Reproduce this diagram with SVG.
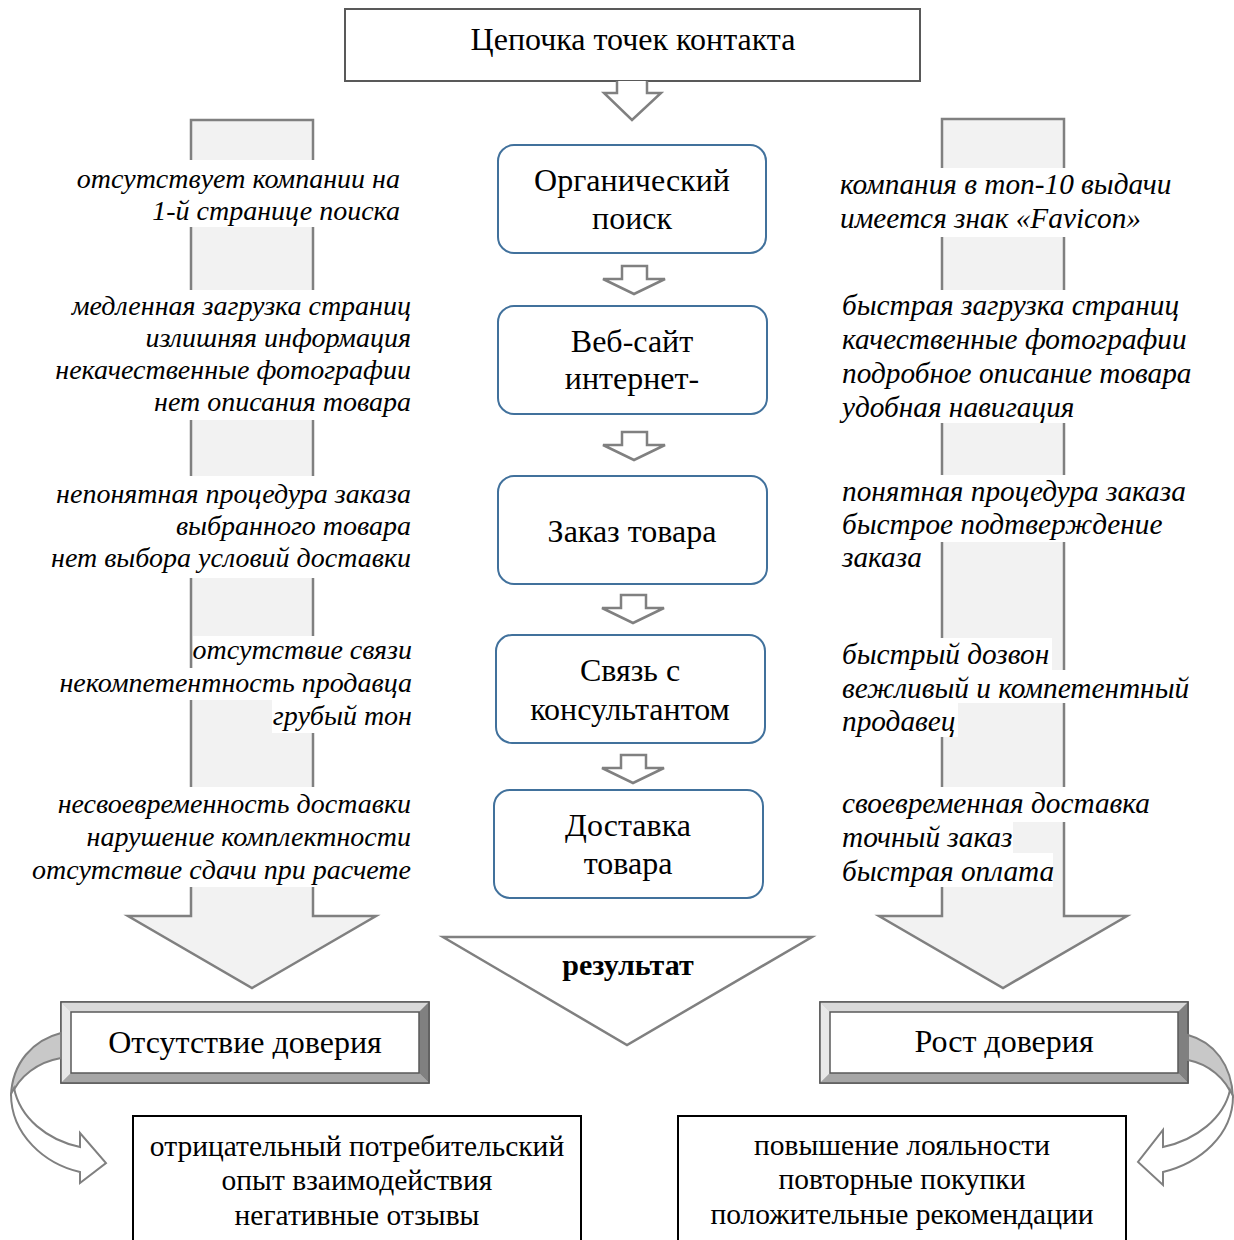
<svg xmlns="http://www.w3.org/2000/svg" width="1234" height="1240" viewBox="0 0 1234 1240">
  <style>
    .serif { font-family: "Liberation Serif", "Times New Roman", serif; fill: #000; }
    .title { font-size: 32px; }
    .node-box { fill: #fff; stroke: #41719c; stroke-width: 2; }
    .node-txt { font-size: 32px; text-anchor: middle; }
    .side { font-size: 28px; font-style: italic; }
    .side-r { font-size: 29.3px; font-style: italic; }
    .left { text-anchor: end; }
    .hl { fill: #fff; }
    .shaft { fill: #f2f2f2; stroke: #808080; stroke-width: 2.5; }
    .step { fill: #fff; stroke: #808080; stroke-width: 2.5; }
    .bevel-out { fill: #bfbfbf; stroke: #595959; stroke-width: 1.5; }
    .res-box { fill: #fff; stroke: #000; stroke-width: 2; }
    .res-txt { font-size: 29.5px; text-anchor: middle; }
    .curl-back { fill: #c8c8c8; stroke: #808080; stroke-width: 2; }
    .curl-front { fill: #fff; stroke: #808080; stroke-width: 2; }
  </style>

  <!-- Large side arrows: shafts run behind the lists of factors -->
  <g id="arrow-negative">
    <path class="shaft" d="M191,120 H313 V916 H376 L252,988 L128,916 H191 Z"/>
  </g>
  <g id="arrow-positive">
    <path class="shaft" d="M942,119 H1064 V916 H1127 L1003,988 L879,916 H942 Z"/>
  </g>

  <!-- Title -->
  <g id="title">
    <rect x="345" y="9" width="575" height="72" fill="#fff" stroke="#595959" stroke-width="2"/>
    <text class="serif title" x="633" y="50" text-anchor="middle">Цепочка точек контакта</text>
  </g>

  <!-- Step arrows between the touch points -->
  <g id="connectors">
    <path class="step" d="M617,81 V93 H604 L632,120 L661,93 H647 V81"/>
    <path class="step" d="M622,266 H647 V279 H665 L634,294 L603,279 H622 Z"/>
    <path class="step" d="M622,432 H647 V445 H665 L634,460 L603,445 H622 Z"/>
    <path class="step" d="M621,595 H646 V608 H664 L633,623 L602,608 H621 Z"/>
    <path class="step" d="M621,755 H646 V768 H664 L633,783 L602,768 H621 Z"/>
  </g>

  <!-- Touch points -->
  <g id="node-search">
    <rect class="node-box" x="498" y="145" width="268" height="108" rx="16"/>
    <text class="serif node-txt" x="632" y="191">Органический</text>
    <text class="serif node-txt" x="632" y="229">поиск</text>
  </g>
  <g id="node-site">
    <rect class="node-box" x="498" y="306" width="269" height="108" rx="16"/>
    <text class="serif node-txt" x="632" y="352">Веб-сайт</text>
    <text class="serif node-txt" x="632" y="389">интернет-</text>
  </g>
  <g id="node-order">
    <rect class="node-box" x="498" y="476" width="269" height="108" rx="16"/>
    <text class="serif node-txt" x="632" y="542">Заказ товара</text>
  </g>
  <g id="node-consult">
    <rect class="node-box" x="496" y="635" width="269" height="108" rx="16"/>
    <text class="serif node-txt" x="630" y="681">Связь с</text>
    <text class="serif node-txt" x="630" y="720">консультантом</text>
  </g>
  <g id="node-delivery">
    <rect class="node-box" x="494" y="790" width="269" height="108" rx="16"/>
    <text class="serif node-txt" x="628" y="836">Доставка</text>
    <text class="serif node-txt" x="628" y="874">товара</text>
  </g>

  <!-- Negative factors (left) -->
  <g id="neg-search">
    <rect class="hl" x="189" y="160" width="128" height="67"/>
    <text class="serif side left" x="400" y="188">отсутствует компании на</text>
    <text class="serif side left" x="400" y="220">1-й странице поиска</text>
  </g>
  <g id="neg-site">
    <rect class="hl" x="189" y="290" width="128" height="130"/>
    <text class="serif side left" x="411" y="315">медленная загрузка страниц</text>
    <text class="serif side left" x="411" y="347">излишняя информация</text>
    <text class="serif side left" x="411" y="379">некачественные фотографии</text>
    <text class="serif side left" x="411" y="411">нет описания товара</text>
  </g>
  <g id="neg-order">
    <rect class="hl" x="189" y="476" width="128" height="102"/>
    <text class="serif side left" x="411" y="503">непонятная процедура заказа</text>
    <text class="serif side left" x="411" y="535">выбранного товара</text>
    <text class="serif side left" x="411" y="567">нет выбора условий доставки</text>
  </g>
  <g id="neg-consult">
    <rect class="hl" x="193" y="636" width="124" height="32"/>
    <rect class="hl" x="189" y="668" width="128" height="32"/>
    <rect class="hl" x="272" y="700" width="45" height="33"/>
    <text class="serif side left" x="412" y="659">отсутствие связи</text>
    <text class="serif side left" x="412" y="692">некомпетентность продавца</text>
    <text class="serif side left" x="412" y="725">грубый тон</text>
  </g>
  <g id="neg-delivery">
    <rect class="hl" x="189" y="787" width="128" height="100"/>
    <text class="serif side left" x="411" y="813">несвоевременность доставки</text>
    <text class="serif side left" x="411" y="846">нарушение комплектности</text>
    <text class="serif side left" x="411" y="879">отсутствие сдачи при расчете</text>
  </g>

  <!-- Positive factors (right) -->
  <g id="pos-search">
    <rect class="hl" x="940" y="168" width="128" height="69"/>
    <text class="serif side-r" x="840" y="194">компания в топ-10 выдачи</text>
    <text class="serif side-r" x="840" y="228">имеется знак «Favicon»</text>
  </g>
  <g id="pos-site">
    <rect class="hl" x="940" y="290" width="128" height="133"/>
    <text class="serif side-r" x="842" y="315">быстрая загрузка страниц</text>
    <text class="serif side-r" x="842" y="349">качественные фотографии</text>
    <text class="serif side-r" x="842" y="383">подробное описание товара</text>
    <text class="serif side-r" x="842" y="417">удобная навигация</text>
  </g>
  <g id="pos-order">
    <rect class="hl" x="940" y="475" width="128" height="67"/>
    <text class="serif side-r" x="842" y="501">понятная процедура заказа</text>
    <text class="serif side-r" x="842" y="534">быстрое подтверждение</text>
    <text class="serif side-r" x="842" y="567">заказа</text>
  </g>
  <g id="pos-consult">
    <rect class="hl" x="940" y="638" width="112" height="32"/>
    <rect class="hl" x="940" y="670" width="128" height="33"/>
    <rect class="hl" x="940" y="703" width="18" height="34"/>
    <text class="serif side-r" x="842" y="664">быстрый дозвон</text>
    <text class="serif side-r" x="842" y="698">вежливый и компетентный</text>
    <text class="serif side-r" x="842" y="731">продавец</text>
  </g>
  <g id="pos-delivery">
    <rect class="hl" x="940" y="787" width="128" height="35"/>
    <rect class="hl" x="940" y="822" width="73" height="31"/>
    <rect class="hl" x="940" y="853" width="113" height="34"/>
    <text class="serif side-r" x="842" y="813">своевременная доставка</text>
    <text class="serif side-r" x="842" y="847">точный заказ</text>
    <text class="serif side-r" x="842" y="881">быстрая оплата</text>
  </g>

  <!-- Result funnel -->
  <g id="result">
    <path d="M443,937 H812 L627,1045 Z" fill="#fff" stroke="#808080" stroke-width="2.5"/>
    <text class="serif" x="628" y="975" font-size="30" font-weight="bold" text-anchor="middle">результат</text>
  </g>

  <!-- Outcome: lack of trust -->
  <g id="outcome-distrust">
    <rect class="bevel-out" x="61" y="1002" width="368" height="81"/>
    <path d="M61,1002 H429 L419,1012 H71 Z" fill="#d9d9d9"/>
    <path d="M61,1002 L71,1012 V1073 L61,1083 Z" fill="#e8e8e8"/>
    <path d="M429,1002 V1083 L419,1073 V1012 Z" fill="#808080"/>
    <path d="M61,1083 L71,1073 H419 L429,1083 Z" fill="#a6a6a6"/>
    <rect x="61" y="1002" width="368" height="81" fill="none" stroke="#595959" stroke-width="1.5"/>
    <rect x="71" y="1012" width="348" height="61" fill="#fff" stroke="#595959" stroke-width="1.5"/>
    <text class="serif" x="245" y="1053" font-size="32" text-anchor="middle">Отсутствие доверия</text>
  </g>

  <!-- Outcome: growth of trust -->
  <g id="outcome-trust">
    <rect class="bevel-out" x="820" y="1002" width="368" height="81"/>
    <path d="M820,1002 H1188 L1178,1012 H830 Z" fill="#d9d9d9"/>
    <path d="M820,1002 L830,1012 V1073 L820,1083 Z" fill="#e8e8e8"/>
    <path d="M1188,1002 V1083 L1178,1073 V1012 Z" fill="#808080"/>
    <path d="M820,1083 L830,1073 H1178 L1188,1083 Z" fill="#a6a6a6"/>
    <rect x="820" y="1002" width="368" height="81" fill="none" stroke="#595959" stroke-width="1.5"/>
    <rect x="830" y="1012" width="348" height="61" fill="#fff" stroke="#595959" stroke-width="1.5"/>
    <text class="serif" x="1004" y="1052" font-size="32" text-anchor="middle">Рост доверия</text>
  </g>

  <!-- Curved arrows from outcomes to consequences -->
  <g id="curl-left">
    <path class="curl-back" d="M61,1033 C33,1040 12,1063 11,1096 C19,1076 38,1062 61,1058 Z"/>
    <path class="curl-front" d="M11,1094 C11,1135 45,1164 80,1172 V1183 L106,1163 L80,1133 V1147 C47,1140 20,1118 14,1088 Z"/>
  </g>
  <g id="curl-right">
    <path class="curl-back" d="M1188,1035 C1214,1042 1232,1065 1233,1098 C1226,1078 1208,1064 1188,1060 Z"/>
    <path class="curl-front" d="M1233,1096 C1233,1135 1200,1163 1163,1172 V1185 L1138,1162 L1163,1130 V1147 C1196,1140 1224,1118 1230,1090 Z"/>
  </g>

  <!-- Consequences -->
  <g id="result-negative">
    <rect class="res-box" x="133" y="1116" width="448" height="140"/>
    <text class="serif res-txt" x="357" y="1156">отрицательный потребительский</text>
    <text class="serif res-txt" x="357" y="1190">опыт взаимодействия</text>
    <text class="serif res-txt" x="357" y="1225">негативные отзывы</text>
  </g>
  <g id="result-positive">
    <rect class="res-box" x="678" y="1116" width="448" height="140"/>
    <text class="serif res-txt" x="902" y="1155">повышение лояльности</text>
    <text class="serif res-txt" x="902" y="1189">повторные покупки</text>
    <text class="serif res-txt" x="902" y="1224">положительные рекомендации</text>
  </g>
</svg>
